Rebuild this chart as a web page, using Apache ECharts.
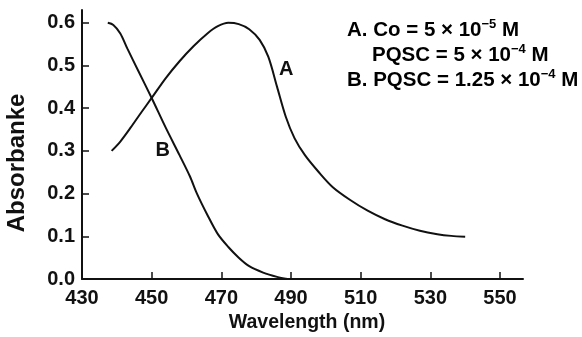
<!DOCTYPE html>
<html>
<head>
<meta charset="utf-8">
<script src="https://cdn.jsdelivr.net/npm/echarts@6/dist/echarts.min.js"></script>
<style>
  html, body { margin: 0; padding: 0; background: #fff; }
  #chart { width: 582px; height: 337px; }
</style>
</head>
<body>
<div id="chart"></div>
<script>
// wavelength (nm) / absorbance
const curveA = [
  [438.5, 0.30], [441, 0.322], [444, 0.355], [447, 0.39], [450, 0.424],
  [454, 0.47], [458, 0.51], [462, 0.545], [466, 0.575], [469, 0.592],
  [472, 0.60], [475, 0.597], [478, 0.585], [481, 0.56], [483.5, 0.52],
  [486, 0.45], [488.5, 0.38], [491, 0.33], [494, 0.29], [498, 0.25],
  [502, 0.215], [507, 0.185], [512, 0.16], [517, 0.14], [522, 0.125],
  [527, 0.113], [532, 0.105], [536, 0.101], [540, 0.099]
];
const curveB = [
  [437.4, 0.60], [439, 0.595], [441, 0.575], [443, 0.54], [446, 0.49],
  [450, 0.424], [454, 0.355], [458, 0.29], [461, 0.24], [463, 0.20],
  [466, 0.15], [469, 0.105], [472, 0.075], [475, 0.05], [478, 0.03],
  [482, 0.015], [486, 0.005], [489, 0.0]
];
const xTicks = [430, 450, 470, 490, 510, 530, 550];
const yTicks = [0.0, 0.1, 0.2, 0.3, 0.4, 0.5, 0.6];
const labelA = [488.6, 0.49];
const labelB = [453.2, 0.30];

const FONT = "'Liberation Sans', Arial, sans-serif";
const INK = "#111";

const chart = echarts.init(document.getElementById("chart"));

const legendRich = {
  t: { fontSize: 20.5, fontWeight: "bold", color: INK, fontFamily: FONT, lineHeight: 24 },
  sup: { fontSize: 13, fontWeight: "bold", color: INK, fontFamily: FONT, verticalAlign: "top", lineHeight: 24 }
};

chart.setOption({
  backgroundColor: "#fff",
  animation: false,
  grid: {
    left: 82,
    right: 59,
    top: 10,
    bottom: 58,
    containLabel: false
  },
  xAxis: {
    type: "value",
    min: 430,
    max: 556.6,
    interval: 20,
    axisLine: { show: true, onZero: false, lineStyle: { color: INK, width: 2 } },
    axisTick: { show: true, inside: true, length: 7, customValues: xTicks, lineStyle: { color: INK, width: 1.5 } },
    axisLabel: {
      customValues: xTicks,
      margin: 9,
      color: INK,
      fontSize: 20,
      fontWeight: "bold",
      fontFamily: FONT
    },
    splitLine: { show: false }
  },
  yAxis: {
    type: "value",
    min: 0,
    max: 0.63,
    interval: 0.1,
    axisLine: { show: true, lineStyle: { color: INK, width: 2 } },
    axisTick: { show: true, inside: true, length: 7, customValues: yTicks, lineStyle: { color: INK, width: 1.5 } },
    axisLabel: {
      customValues: yTicks,
      margin: 7,
      color: INK,
      fontSize: 20,
      fontWeight: "bold",
      fontFamily: FONT,
      formatter: (v) => v.toFixed(1)
    },
    splitLine: { show: false }
  },
  series: [
    {
      name: "A",
      type: "line",
      data: curveA,
      smooth: 0.3,
      symbol: "none",
      lineStyle: { color: INK, width: 2 },
      markPoint: {
        symbol: "circle",
        symbolSize: 0,
        label: { show: true, formatter: "A", color: INK, fontSize: 20, fontWeight: "bold", fontFamily: FONT },
        data: [{ coord: labelA }]
      }
    },
    {
      name: "B",
      type: "line",
      data: curveB,
      smooth: 0.3,
      symbol: "none",
      lineStyle: { color: INK, width: 2 },
      markPoint: {
        symbol: "circle",
        symbolSize: 0,
        label: { show: true, formatter: "B", color: INK, fontSize: 20, fontWeight: "bold", fontFamily: FONT },
        data: [{ coord: labelB }]
      }
    }
  ],
  graphic: [
    {
      type: "text",
      x: 17,
      y: 163,
      rotation: Math.PI / 2,
      style: {
        text: "Absorbanke",
        font: "bold 24px " + FONT,
        fill: INK,
        align: "center",
        verticalAlign: "middle"
      }
    },
    {
      type: "text",
      x: 307,
      y: 323,
      style: {
        text: "Wavelength (nm)",
        font: "bold 19.5px " + FONT,
        fill: INK,
        align: "center",
        verticalAlign: "middle"
      }
    },
    {
      type: "text",
      x: 347,
      y: 18,
      style: { text: "{t|A. Co = 5 × 10}{sup|−5}{t| M}", rich: legendRich }
    },
    {
      type: "text",
      x: 372,
      y: 43,
      style: { text: "{t|PQSC = 5 × 10}{sup|−4}{t| M}", rich: legendRich }
    },
    {
      type: "text",
      x: 347,
      y: 68,
      style: { text: "{t|B. PQSC = 1.25 × 10}{sup|−4}{t| M}", rich: legendRich }
    }
  ]
});
</script>
</body>
</html>
